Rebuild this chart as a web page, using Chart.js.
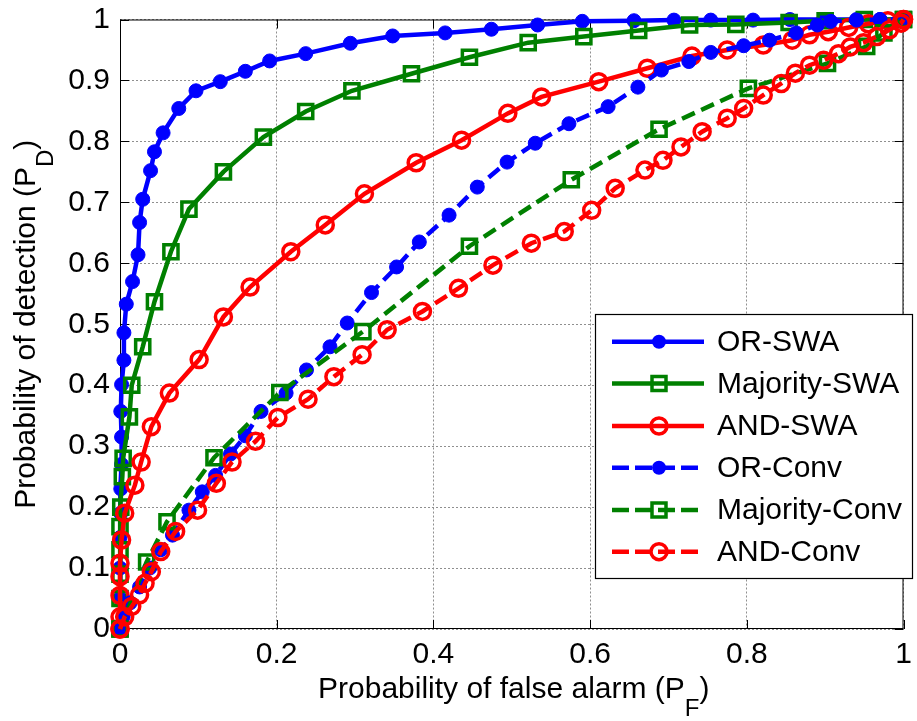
<!DOCTYPE html>
<html>
<head>
<meta charset="utf-8">
<script src="https://cdn.jsdelivr.net/npm/chart.js@4.4.1/dist/chart.umd.min.js"></script>
<style>
  html, body { margin: 0; padding: 0; background: #fff; overflow: hidden; }
  #wrap { width: 917px; height: 721px; position: relative; }
</style>
</head>
<body>
<div id="wrap"><canvas id="roc" width="917" height="721"></canvas></div>
<script>
// ROC curves: probability of detection vs. probability of false alarm
const seriesNames = ['OR-SWA', 'Majority-SWA', 'AND-SWA', 'OR-Conv', 'Majority-Conv', 'AND-Conv'];

const orSwaPF = [0, 0, 0, 0, 0.001, 0.001, 0.002, 0.002, 0.001, 0.002, 0.005, 0.005, 0.008, 0.016, 0.023, 0.025, 0.029, 0.039, 0.044, 0.055, 0.075, 0.097, 0.128, 0.160, 0.191, 0.237, 0.294, 0.348, 0.415, 0.474, 0.533, 0.590, 0.656, 0.707, 0.754, 0.808, 0.855, 0.900, 0.940, 0.970, 1.0];
const orSwaPD = [0, 0.05, 0.10, 0.15, 0.19, 0.23, 0.27, 0.315, 0.357, 0.401, 0.441, 0.486, 0.533, 0.570, 0.614, 0.667, 0.705, 0.752, 0.783, 0.814, 0.854, 0.883, 0.898, 0.915, 0.932, 0.944, 0.961, 0.973, 0.978, 0.984, 0.991, 0.997, 0.998, 0.999, 0.999, 0.999, 1.0, 1.0, 1.0, 1.0, 1.0];

const majSwaPF = [0, 0, 0, 0, 0, 0.001, 0.003, 0.004, 0.012, 0.015, 0.029, 0.044, 0.065, 0.088, 0.132, 0.183, 0.237, 0.296, 0.372, 0.446, 0.521, 0.592, 0.662, 0.727, 0.786, 0.854, 0.900, 0.950, 1.0];
const majSwaPD = [0, 0.05, 0.09, 0.13, 0.168, 0.20, 0.25, 0.28, 0.348, 0.400, 0.463, 0.537, 0.619, 0.689, 0.750, 0.807, 0.849, 0.883, 0.911, 0.938, 0.962, 0.972, 0.982, 0.991, 0.992, 0.995, 0.998, 1.0, 1.0];

const andSwaPF = [0, 0, 0, 0, 0, 0.002, 0.006, 0.019, 0.027, 0.040, 0.063, 0.101, 0.132, 0.166, 0.218, 0.262, 0.312, 0.378, 0.436, 0.495, 0.538, 0.611, 0.673, 0.730, 0.775, 0.821, 0.858, 0.880, 0.904, 0.930, 0.955, 0.980, 1.0];
const andSwaPD = [0, 0.02, 0.055, 0.086, 0.108, 0.146, 0.190, 0.236, 0.274, 0.332, 0.387, 0.442, 0.512, 0.561, 0.619, 0.663, 0.714, 0.765, 0.802, 0.846, 0.873, 0.898, 0.920, 0.940, 0.950, 0.958, 0.966, 0.975, 0.980, 0.987, 0.993, 0.998, 1.0];

const orConvPF = [0, 0.004, 0.013, 0.025, 0.038, 0.052, 0.067, 0.088, 0.105, 0.122, 0.141, 0.160, 0.180, 0.212, 0.238, 0.268, 0.290, 0.321, 0.353, 0.382, 0.420, 0.456, 0.494, 0.530, 0.573, 0.623, 0.661, 0.691, 0.726, 0.754, 0.796, 0.829, 0.863, 0.890, 0.907, 0.940, 0.970, 1.0];
const orConvPD = [0, 0.020, 0.043, 0.069, 0.100, 0.130, 0.154, 0.195, 0.225, 0.252, 0.287, 0.317, 0.357, 0.387, 0.425, 0.463, 0.502, 0.552, 0.594, 0.635, 0.679, 0.725, 0.766, 0.797, 0.829, 0.857, 0.889, 0.917, 0.931, 0.946, 0.957, 0.966, 0.978, 0.991, 0.997, 0.999, 1.0, 1.0];

const majConvPF = [0, 0.034, 0.060, 0.120, 0.204, 0.310, 0.446, 0.576, 0.688, 0.802, 0.903, 0.953, 0.975, 1.0];
const majConvPD = [0, 0.110, 0.176, 0.281, 0.388, 0.488, 0.628, 0.737, 0.820, 0.887, 0.928, 0.956, 0.978, 1.0];

const andConvPF = [0, 0.006, 0.015, 0.025, 0.032, 0.040, 0.052, 0.071, 0.099, 0.123, 0.143, 0.173, 0.2015, 0.240, 0.273, 0.309, 0.341, 0.386, 0.432, 0.476, 0.525, 0.567, 0.602, 0.632, 0.670, 0.693, 0.716, 0.743, 0.775, 0.796, 0.821, 0.844, 0.862, 0.880, 0.898, 0.917, 0.932, 0.949, 0.966, 0.982, 0.997, 1.0];
const andConvPD = [0, 0.020, 0.037, 0.056, 0.075, 0.094, 0.127, 0.160, 0.195, 0.239, 0.274, 0.308, 0.347, 0.377, 0.414, 0.450, 0.491, 0.521, 0.559, 0.597, 0.633, 0.652, 0.687, 0.723, 0.753, 0.769, 0.791, 0.816, 0.838, 0.854, 0.876, 0.895, 0.912, 0.925, 0.933, 0.944, 0.955, 0.962, 0.972, 0.983, 0.994, 1.0];

const xTickStep = 0.2;
const yTickStep = 0.1;

const FONT = "'Liberation Sans', Arial, Helvetica, sans-serif";
const BLUE = '#0000ff', GREEN = '#008000', RED = '#ff0000';
const DASH = [14, 7];

function toPoints(xs, ys) {
  return xs.map((x, i) => ({ x: x, y: ys[i] }));
}

// marker styles per series
const styles = [
  { color: BLUE,  dash: [],   marker: 'dot' },
  { color: GREEN, dash: [],   marker: 'square' },
  { color: RED,   dash: [],   marker: 'ring' },
  { color: BLUE,  dash: DASH, marker: 'dot' },
  { color: GREEN, dash: DASH, marker: 'square' },
  { color: RED,   dash: DASH, marker: 'ring' }
];
const seriesData = [
  toPoints(orSwaPF, orSwaPD),
  toPoints(majSwaPF, majSwaPD),
  toPoints(andSwaPF, andSwaPD),
  toPoints(orConvPF, orConvPD),
  toPoints(majConvPF, majConvPD),
  toPoints(andConvPF, andConvPD)
];

function markerOpts(st) {
  if (st.marker === 'dot') {
    return { pointStyle: 'circle', pointRadius: 7, pointBorderWidth: 1, pointBackgroundColor: st.color, pointBorderColor: st.color };
  }
  if (st.marker === 'square') {
    return { pointStyle: 'rect', pointRadius: 10, pointBorderWidth: 3.5, pointBackgroundColor: 'rgba(0,0,0,0)', pointBorderColor: st.color };
  }
  return { pointStyle: 'circle', pointRadius: 8, pointBorderWidth: 3.5, pointBackgroundColor: 'rgba(0,0,0,0)', pointBorderColor: st.color };
}

const datasets = seriesNames.map((name, i) => Object.assign({
  label: name,
  data: seriesData[i],
  borderColor: styles[i].color,
  borderWidth: 4.5,
  borderDash: styles[i].dash,
  fill: false,
  tension: 0,
  clip: false,
  order: seriesNames.length - i
}, markerOpts(styles[i])));

function drawMarker(ctx, st, x, y) {
  ctx.save();
  ctx.setLineDash([]);
  ctx.strokeStyle = st.color;
  ctx.fillStyle = st.color;
  if (st.marker === 'dot') {
    ctx.beginPath(); ctx.arc(x, y, 7, 0, Math.PI * 2); ctx.fill();
  } else if (st.marker === 'square') {
    ctx.lineWidth = 3.5;
    const s = 7;
    ctx.strokeRect(x - s, y - s, 2 * s, 2 * s);
  } else {
    ctx.lineWidth = 3.5;
    ctx.beginPath(); ctx.arc(x, y, 8, 0, Math.PI * 2); ctx.stroke();
  }
  ctx.restore();
}

// text with a trailing subscript and closing bracket
function subParts(main, sub, tail) {
  return [{ t: main, f: '30px ' + FONT, dy: 0 }, { t: sub, f: '24px ' + FONT, dy: 18 }, { t: tail, f: '30px ' + FONT, dy: 0 }];
}
function drawParts(ctx, parts, cx, baseY) {
  let total = 0;
  parts.forEach(p => { ctx.font = p.f; p.w = ctx.measureText(p.t).width; total += p.w; });
  let x = cx - total / 2;
  ctx.textAlign = 'left';
  ctx.textBaseline = 'alphabetic';
  parts.forEach(p => { ctx.font = p.f; ctx.fillText(p.t, x, baseY + p.dy); x += p.w; });
}

const decorations = {
  id: 'decorations',
  beforeDatasetsDraw(chart) {
    const { ctx, chartArea: a, scales } = chart;
    ctx.save();
    ctx.strokeStyle = '#000';
    ctx.lineWidth = 1;
    ctx.strokeRect(a.left + 0.5, a.top + 0.5, a.right - a.left - 1, a.bottom - a.top - 1);
    const tl = 9;
    ctx.beginPath();
    scales.x.ticks.forEach(t => {
      const px = Math.round(scales.x.getPixelForValue(t.value)) + 0.5;
      ctx.moveTo(px, a.bottom); ctx.lineTo(px, a.bottom - tl);
      ctx.moveTo(px, a.top); ctx.lineTo(px, a.top + tl);
    });
    scales.y.ticks.forEach(t => {
      const py = Math.round(scales.y.getPixelForValue(t.value)) + 0.5;
      ctx.moveTo(a.left, py); ctx.lineTo(a.left + tl, py);
      ctx.moveTo(a.right, py); ctx.lineTo(a.right - tl, py);
    });
    ctx.stroke();
    ctx.restore();
  },
  afterDraw(chart) {
    const { ctx, chartArea: a } = chart;
    ctx.save();
    ctx.fillStyle = '#000';
    // axis titles
    drawParts(ctx, subParts('Probability of false alarm (P', 'F', ')'), (a.left + a.right) / 2 + 2, 698);
    ctx.save();
    ctx.translate(35, (a.top + a.bottom) / 2);
    ctx.rotate(-Math.PI / 2);
    drawParts(ctx, subParts('Probability of detection (P', 'D', ')'), 0, 0);
    ctx.restore();

    // legend
    const L = 595, T = 314, R = 913, B = 579;
    ctx.fillStyle = '#fff';
    ctx.fillRect(L, T, R - L, B - T);
    ctx.strokeStyle = '#000';
    ctx.lineWidth = 1.2;
    ctx.strokeRect(L + 0.5, T + 0.5, R - L - 1, B - T - 1);
    const rowY = [341.7, 383.5, 426, 467.7, 510, 551.7];
    seriesNames.forEach((name, i) => {
      const st = styles[i];
      const y = rowY[i];
      ctx.save();
      ctx.strokeStyle = st.color;
      ctx.lineWidth = 4.5;
      ctx.setLineDash(st.dash.length ? [17, 6] : []);
      ctx.beginPath(); ctx.moveTo(612, y); ctx.lineTo(704, y); ctx.stroke();
      ctx.restore();
      drawMarker(ctx, st, 659, y);
      ctx.fillStyle = '#000';
      ctx.font = '30px ' + FONT;
      ctx.textAlign = 'left';
      ctx.textBaseline = 'middle';
      ctx.fillText(name, 717, y + 1);
    });
    ctx.restore();
  }
};

const tickFont = { family: FONT, size: 30 };
const gridOpts = { color: '#8f8f8f', lineWidth: 1, drawTicks: false };
const tickText = v => String(Math.round(v * 10) / 10);

new Chart(document.getElementById('roc'), {
  type: 'line',
  data: { datasets: datasets },
  options: {
    responsive: false,
    animation: false,
    events: [],
    layout: { padding: { left: 0, right: 3, top: 19.5, bottom: 0 } },
    plugins: { legend: { display: false }, tooltip: { enabled: false } },
    scales: {
      x: {
        type: 'linear', min: 0, max: 1,
        ticks: { stepSize: xTickStep, color: '#000', font: tickFont, padding: 8, maxRotation: 0, callback: tickText },
        grid: gridOpts,
        border: { display: false, dash: [2, 2] },
        afterFit(s) { s.height = 92; s.paddingLeft = 0; s.paddingRight = 0; }
      },
      y: {
        type: 'linear', min: 0, max: 1,
        ticks: { stepSize: yTickStep, color: '#000', font: tickFont, padding: 10, callback: tickText },
        grid: gridOpts,
        border: { display: false, dash: [2, 2] },
        afterFit(s) { s.width = 120; s.paddingTop = 0; s.paddingBottom = 0; }
      }
    }
  },
  plugins: [decorations]
});
</script>
</body>
</html>
